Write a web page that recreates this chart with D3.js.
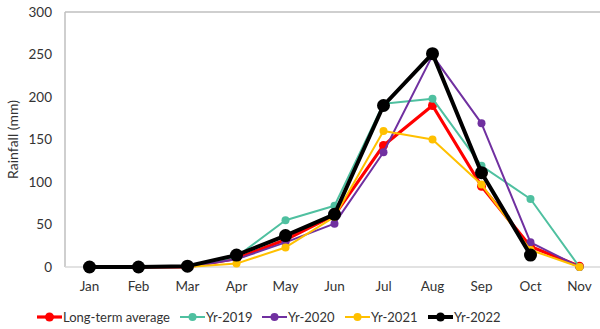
<!DOCTYPE html>
<html>
<head>
<meta charset="utf-8">
<script src="https://cdn.jsdelivr.net/npm/d3@7/dist/d3.min.js"></script>
<style>
  html, body { margin: 0; padding: 0; background: #fff; }
  svg { display: block; font-family: Lato, "Open Sans", sans-serif; }
</style>
</head>
<body>
<svg id="chart" width="600" height="329"></svg>
<script>
// Monthly rainfall (mm)
const months = ["Jan", "Feb", "Mar", "Apr", "May", "Jun", "Jul", "Aug", "Sep", "Oct", "Nov"];
const longTermAverage = [0, 0, 0, 10, 32, 61, 143, 190, 95, 24, 1];
const yr2019 = [0, 0, 0, 12, 55, 72, 192, 198, 119, 80, 0];
const yr2020 = [0, 0, 0, 9, 29, 51, 135, 249, 169, 29, 0];
const yr2021 = [0, 0, 0, 4, 23, 59, 160, 150, 97, 20, 0];
const yr2022 = [0, 0, 1, 14, 37, 62, 190, 251, 111, 14, null];
const yTicks = [0, 50, 100, 150, 200, 250, 300];

const series = [
  { name: "Long-term average", values: longTermAverage, color: "#ff0000", width: 3.2, r: 4.5 },
  { name: "Yr-2019", values: yr2019, color: "#4fc0a0", width: 2, r: 4 },
  { name: "Yr-2020", values: yr2020, color: "#7030a0", width: 2, r: 4 },
  { name: "Yr-2021", values: yr2021, color: "#ffc000", width: 2, r: 4 },
  { name: "Yr-2022", values: yr2022, color: "#000000", width: 4, r: 6.5 }
];

const svg = d3.select("#chart");
const plotLeft = 65, plotTop = 12, plotRight = 604, plotBottom = 267;
const font = "Lato, 'Open Sans', sans-serif";

const x = d3.scaleBand().domain(months).range([plotLeft, plotRight]);
const y = d3.scaleLinear().domain([0, 300]).range([plotBottom, plotTop]);
const cx = m => x(m) + x.bandwidth() / 2;

// plot frame: top and left edges
svg.append("line").attr("x1", plotLeft).attr("x2", 600).attr("y1", plotTop).attr("y2", plotTop)
  .attr("stroke", "#bfbfbf").attr("stroke-width", 1.5);
svg.append("line").attr("x1", plotLeft).attr("x2", plotLeft).attr("y1", plotTop).attr("y2", plotBottom)
  .attr("stroke", "#bfbfbf").attr("stroke-width", 1.5);

// baseline
svg.append("line").attr("x1", plotLeft).attr("x2", 600).attr("y1", plotBottom).attr("y2", plotBottom)
  .attr("stroke", "#d9d9d9").attr("stroke-width", 1.5);

// y axis
const yAxis = svg.append("g").attr("transform", `translate(${plotLeft - 13},0)`)
  .call(d3.axisLeft(y).tickValues(yTicks).tickSize(0).tickPadding(0));
yAxis.select(".domain").remove();
yAxis.selectAll("text").attr("fill", "#333").style("font-size", "13.5px")
  .style("font-family", font);

// x axis
const xAxis = svg.append("g").attr("transform", `translate(0,${plotBottom + 14})`)
  .call(d3.axisBottom(x).tickSize(0).tickPadding(0));
xAxis.select(".domain").remove();
xAxis.selectAll("text").attr("fill", "#333").style("font-size", "13.5px")
  .style("font-family", font);

// y axis title
svg.append("text")
  .attr("transform", `translate(18,${(plotTop + plotBottom) / 2}) rotate(-90)`)
  .attr("text-anchor", "middle")
  .attr("fill", "#333")
  .style("font-size", "14px")
  .text("Rainfall (mm)");

// series lines and markers
const line = d3.line()
  .defined(d => d.v !== null)
  .x(d => cx(d.m))
  .y(d => y(d.v));

series.forEach(s => {
  const pts = months.map((m, i) => ({ m, v: s.values[i] }));
  const g = svg.append("g");
  g.append("path").datum(pts)
    .attr("d", line)
    .attr("fill", "none")
    .attr("stroke", s.color)
    .attr("stroke-width", s.width)
    .attr("stroke-linejoin", "round");
  g.selectAll("circle").data(pts.filter(d => d.v !== null)).join("circle")
    .attr("cx", d => cx(d.m))
    .attr("cy", d => y(d.v))
    .attr("r", s.r)
    .attr("fill", s.color);
});

// legend
const legendX = [37, 180, 262, 345, 428];
const legendY = 317;
series.forEach((s, i) => {
  const g = svg.append("g").attr("transform", `translate(${legendX[i]},${legendY})`);
  g.append("line").attr("x1", 0).attr("x2", 25).attr("y1", 0).attr("y2", 0)
    .attr("stroke", s.color).attr("stroke-width", s.width);
  g.append("circle").attr("cx", 12.5).attr("cy", 0).attr("r", Math.min(s.r, 4.5)).attr("fill", s.color);
  g.append("text").attr("x", 26).attr("y", 0).attr("dy", "0.35em")
    .attr("fill", "#333").style("font-size", "13px").text(s.name);
});
</script>
</body>
</html>
